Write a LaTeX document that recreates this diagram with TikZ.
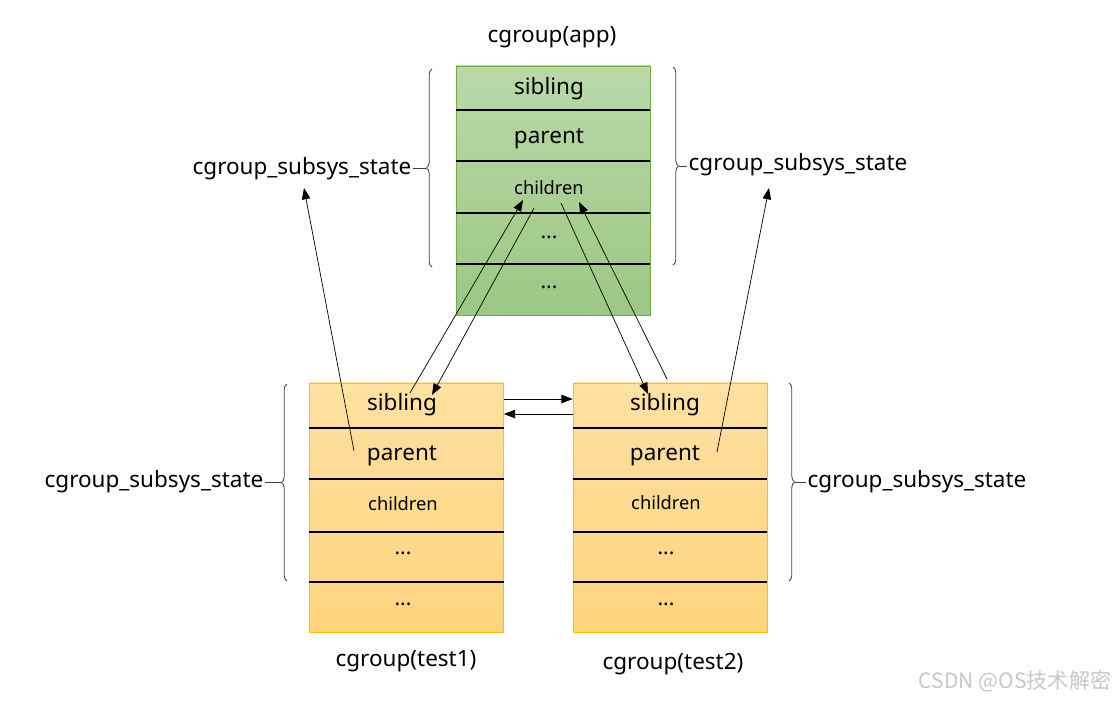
\documentclass[tikz,border=0pt]{standalone}
\usepackage{fontspec}
\setmainfont{Noto Sans}
\newfontfamily\cjkfont{Noto Sans CJK SC}
\usetikzlibrary{arrows.meta,decorations.pathreplacing}
\definecolor{apptop}{HTML}{BAD8A9}
\definecolor{appbot}{HTML}{9CC784}
\definecolor{appline}{HTML}{70AD47}
\definecolor{subtop}{HTML}{FFE1A2}
\definecolor{subbot}{HTML}{FFD47E}
\definecolor{subline}{HTML}{FFC000}
\begin{document}
\begin{tikzpicture}[x=0.025cm, y=-0.025cm,
    every node/.style={font=\fontsize{16}{19}\selectfont, inner sep=1pt},
    cgbox/.style={minimum width=4.85cm, minimum height=6.225cm, inner sep=0pt},
    appbox/.style={cgbox, draw=appline, top color=apptop, bottom color=appbot},
    subbox/.style={cgbox, draw=subline, top color=subtop, bottom color=subbot},
    rowline/.style={line width=1.2pt},
    small/.style={font=\fontsize{13}{16}\selectfont},
    dots/.style={font=\bfseries\fontsize{15}{17}\selectfont},
    cbrace/.style={black!75, line width=0.6pt, decorate, decoration={brace, amplitude=4pt}},
    ptr/.style={-{Triangle[length=8pt, width=6pt]}, line width=0.5pt}]
  \useasboundingbox (0,0) rectangle (1120,700);
  \node[appbox] (app) at (553,190.5) {};
  \node[subbox] (test1) at (406.5,507.5) {};
  \node[subbox] (test2) at (670,507.5) {};
  \foreach \y in {110,161,213,264} \draw[rowline] (456,\y) -- (650,\y);
  \foreach \y in {428,479,532,582} {
    \draw[rowline] (309,\y) -- (504,\y);
    \draw[rowline] (573,\y) -- (767,\y);
  }
  \node (app-title) at (552,37) {cgroup(app)};
  \node (t1-title) at (406,661) {cgroup(test1)};
  \node (t2-title) at (673,664) {cgroup(test2)};
  \node (app-sib) at (549,89) {sibling};
  \node (app-par) at (549,139) {parent};
  \node[small] (app-chi) at (549,188) {children};
  \node[dots] (app-d1) at (549,237) {...};
  \node[dots] (app-d2) at (549,287) {...};
  \node (t1-sib) at (402,405) {sibling};
  \node (t1-par) at (402,456) {parent};
  \node[small] (t1-chi) at (403,504) {children};
  \node[dots] (t1-d1) at (403,553) {...};
  \node[dots] (t1-d2) at (403,604) {...};
  \node (t2-sib) at (665,405) {sibling};
  \node (t2-par) at (665,456) {parent};
  \node[small] (t2-chi) at (666,503) {children};
  \node[dots] (t2-d1) at (666,553) {...};
  \node[dots] (t2-d2) at (666,604) {...};
  \draw[cbrace] (432,267) -- (432,69);
  \draw[cbrace] (673,67) -- (673,265);
  \draw[cbrace] (287,581) -- (287,384);
  \draw[cbrace] (789,383) -- (789,581);
  \node[anchor=east] (app-css-l) at (413,169) {cgroup\_subsys\_state};
  \node[anchor=west] (app-css-r) at (687,165) {cgroup\_subsys\_state};
  \node[anchor=east] (t1-css) at (265,482) {cgroup\_subsys\_state};
  \node[anchor=west] (t2-css) at (806,482) {cgroup\_subsys\_state};
  \coordinate (app-tip-l) at (426,168);
  \coordinate (app-tip-r) at (679,166);
  \coordinate (t1-tip) at (281,482);
  \coordinate (t2-tip) at (795,482);
  \draw[black!75] (app-css-l.east |- app-tip-l) -- (app-tip-l);
  \draw[black!75] (app-tip-r) -- (app-css-r.west |- app-tip-r);
  \draw[black!75] (t1-css.east |- t1-tip) -- (t1-tip);
  \draw[black!75] (t2-tip) -- (t2-css.west |- t2-tip);
  \coordinate (t1-par-p) at (354,451);
  \coordinate (t2-par-p) at (717,452);
  \coordinate (app-css-in) at (304,188);
  \coordinate (app-css-out) at (769,188);
  \coordinate (t1-sib-out) at (410,393);
  \coordinate (t1-sib-in) at (432,395);
  \coordinate (app-chi-in1) at (523,200);
  \coordinate (app-chi-out1) at (534,208);
  \coordinate (app-chi-out2) at (561,203);
  \coordinate (app-chi-in2) at (579,202);
  \coordinate (t2-sib-in) at (648,394);
  \coordinate (t2-sib-out) at (667,379);
  \draw[ptr] (t1-par-p) -- (app-css-in);
  \draw[ptr] (t2-par-p) -- (app-css-out);
  \draw[ptr] (t1-sib-out) -- (app-chi-in1);
  \draw[ptr] (app-chi-out1) -- (t1-sib-in);
  \draw[ptr] (app-chi-out2) -- (t2-sib-in);
  \draw[ptr] (t2-sib-out) -- (app-chi-in2);
  \draw[ptr] (test1.east |- 0,399) -- (test2.west |- 0,399);
  \draw[ptr] (test2.west |- 0,414) -- (test1.east |- 0,414);
  \node[anchor=west, black!22, font=\cjkfont\fontsize{15}{18}\selectfont] (mark) at (917,681) {CSDN @OS技术解密};
\end{tikzpicture}
\end{document}
